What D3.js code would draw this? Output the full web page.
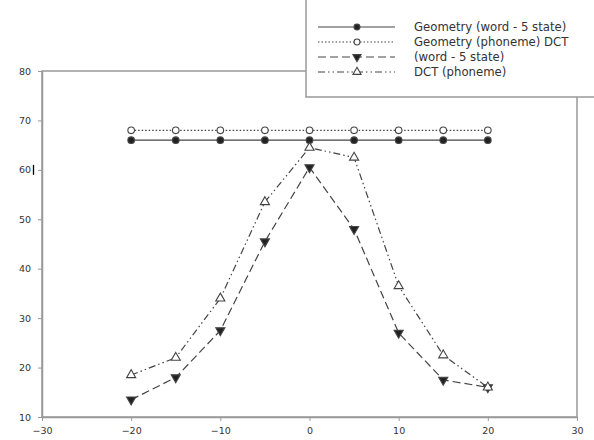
<!DOCTYPE html>
<html><head><meta charset="utf-8">
<script src="https://cdn.jsdelivr.net/npm/d3@7"></script>
<style>body{margin:0;background:#fff}svg{display:block}text{font-family:"DejaVu Sans",Verdana,sans-serif}</style>
</head><body>
<svg id="c" width="594" height="440"></svg>
<script>
const xs = [-20,-15,-10,-5,0,5,10,15,20];
const geomWord = [66,66,66,66,66,66,66,66,66];
const geomPhonDCT = [68,68,68,68,68,68,68,68,68];
const word5 = [13.5,18,27.5,45.5,60.5,48,27,17.5,16];
const dctPhon = [18.5,22,34,53.5,64.5,62.5,36.5,22.5,16];
const xTicks = [-30,-20,-10,0,10,20,30];
const yTicks = [10,20,30,40,50,60,70,80];
const names = ["Geometry (word - 5 state)","Geometry (phoneme) DCT","(word - 5 state)","DCT (phoneme)"];

const svg = d3.select("#c");
const x = d3.scaleLinear().domain([-30,30]).range([42,577]);
const y = d3.scaleLinear().domain([10,80]).range([417,71]);
const lc = "#444";

svg.append("rect").attr("x",42).attr("y",71).attr("width",535).attr("height",346)
  .attr("fill","none").attr("stroke","#999").attr("stroke-width",1.5);

const ax = svg.append("g").attr("transform","translate(0,417)")
  .call(d3.axisBottom(x).tickValues(xTicks).tickSize(4).tickPadding(6).tickSizeOuter(0));
const ay = svg.append("g").attr("transform","translate(42,0)")
  .call(d3.axisLeft(y).tickValues(yTicks).tickSize(4).tickPadding(7).tickSizeOuter(0));
[ax,ay].forEach(a=>{
  a.select(".domain").attr("stroke","#999").attr("stroke-width",1.5);
  a.selectAll(".tick line").attr("stroke","#999");
  a.selectAll("text").attr("fill","#333").style("font-size","9.5px").style("font-family","DejaVu Sans, sans-serif");
});
svg.append("line").attr("x1",33.5).attr("x2",33.5).attr("y1",y(60)-5).attr("y2",y(60)+5).attr("stroke","#000").attr("stroke-width",1.3);

const series = [
  {v:geomWord, dash:null, sym:d3.symbolCircle, fill:"#222", size:34},
  {v:geomPhonDCT, dash:"1.5,2", sym:d3.symbolCircle, fill:"#fff", size:34},
  {v:word5, dash:"8,4", sym:d3.symbolTriangle, fill:"#222", size:36, rot:180},
  {v:dctPhon, dash:"7,3,1.5,3,1.5,3", sym:d3.symbolTriangle, fill:"#fff", size:36, rot:0}
];
const line = d3.line().x((d,i)=>x(xs[i])).y(d=>y(d));
series.forEach(s=>{
  svg.append("path").datum(s.v).attr("d",line).attr("fill","none")
    .attr("stroke",lc).attr("stroke-width",1.2).attr("stroke-dasharray",s.dash);
  svg.append("g").selectAll("path").data(s.v).join("path")
    .attr("d",d3.symbol().type(s.sym).size(s.size))
    .attr("transform",(d,i)=>`translate(${x(xs[i])},${y(d)}) rotate(${s.rot||0})`)
    .attr("fill",s.fill).attr("stroke",lc).attr("stroke-width",1.1);
});

const lg = svg.append("g");
lg.append("rect").attr("x",306).attr("y",-2).attr("width",290).attr("height",99)
  .attr("fill","#fff").attr("stroke","#999").attr("stroke-width",1.5);
const rowY = [27,42,57,72];
series.forEach((s,i)=>{
  lg.append("line").attr("x1",318).attr("x2",395).attr("y1",rowY[i]).attr("y2",rowY[i])
    .attr("stroke",lc).attr("stroke-width",1.2).attr("stroke-dasharray",s.dash);
  lg.append("path").attr("d",d3.symbol().type(s.sym).size(s.size*0.8))
    .attr("transform",`translate(357,${rowY[i]}) rotate(${s.rot||0})`)
    .attr("fill",s.fill).attr("stroke",lc).attr("stroke-width",1.1);
  lg.append("text").attr("x",414).attr("y",rowY[i]+4).attr("fill","#333")
    .style("font-size","11.7px").text(names[i]);
});
</script>
</body></html>
